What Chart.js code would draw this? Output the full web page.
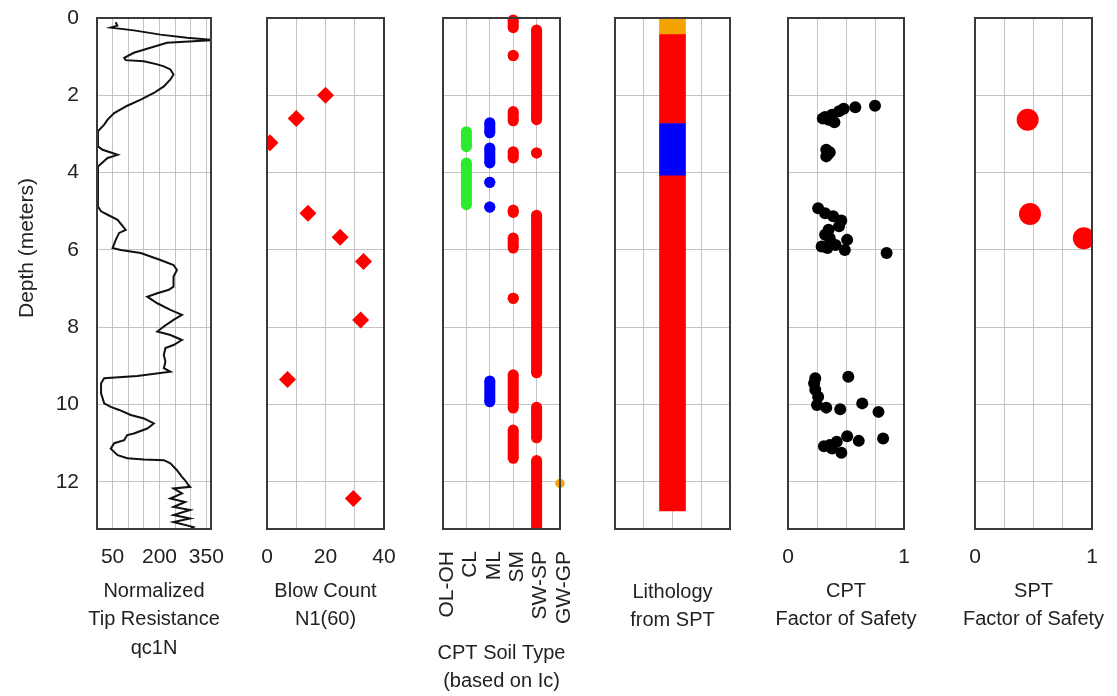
<!DOCTYPE html>
<html>
<head>
<meta charset="utf-8">
<title>CPT / SPT profile</title>
<script src="https://cdn.jsdelivr.net/npm/chart.js@4.4.1/dist/chart.umd.min.js"></script>
<style>
  html, body { margin: 0; padding: 0; background: #fff; overflow: hidden; }
  #wrap { position: relative; width: 1117px; height: 696px; }
  #wrap canvas { position: absolute; top: 0; }
</style>
</head>
<body>
<div id="wrap">
  <canvas id="qcChart"></canvas>
  <canvas id="sptChart"></canvas>
  <canvas id="soilChart"></canvas>
  <canvas id="lithChart"></canvas>
  <canvas id="cptFsChart"></canvas>
  <canvas id="sptFsChart"></canvas>
</div>
<script>
// ---- data ----
const depthLabel = "Depth (meters)";

// normalized tip resistance qc1N
const qcDepth = [0.11, 0.20, 0.25, 0.32, 0.43, 0.51, 0.57, 0.64, 0.90, 1.03, 1.09, 1.12, 1.20, 1.25, 1.33, 1.46, 1.59, 1.77, 1.94, 2.11,
  2.27, 2.46, 2.63, 2.76, 2.93, 3.32, 3.41, 3.54, 3.62, 3.84, 4.88, 5.00, 5.09, 5.22, 5.48, 5.56, 5.74, 5.95, 6.00, 6.08,
  6.26, 6.39, 6.52, 6.69, 6.95, 7.03, 7.12, 7.21, 7.38, 7.55, 7.68, 7.81, 7.98, 8.11, 8.20, 8.33, 8.46, 8.54, 8.72, 8.89,
  9.06, 9.15, 9.26, 9.32, 9.45, 9.71, 9.97, 10.06, 10.14, 10.27, 10.36, 10.49, 10.62, 10.75, 10.79, 10.92, 11.00, 11.14, 11.31, 11.39,
  11.42, 11.44, 11.52, 11.70, 11.87, 11.96, 12.09, 12.13, 12.17, 12.30, 12.43, 12.52, 12.65, 12.73, 12.86, 12.95, 13.04, 13.17, 13.22];
const qcValue = [60, 65, 44, 118, 203, 288, 372, 224, 118, 87, 92, 150, 193, 214, 235, 245, 235, 214, 182, 140,
  97, 55, 34, 23, 3, 3, 18, 66, 34, 3, 3, 13, 34, 66, 92, 71, 60, 50, 76, 140,
  203, 245, 256, 245, 245, 230, 193, 161, 193, 235, 272, 245, 214, 193, 235, 272, 245, 219, 214, 219,
  214, 235, 129, 23, 13, 13, 23, 44, 71, 108, 150, 182, 161, 118, 97, 87, 55, 44, 66, 97,
  150, 214, 235, 256, 272, 282, 293, 298, 245, 272, 235, 282, 245, 298, 245, 298, 245, 309, 300];
const qcTicksShown = [50, 200, 350];

// SPT blow count N1(60)
const sptDepth = [2.0, 2.6, 3.23, 5.05, 5.67, 6.3, 7.81, 9.35, 12.43];
const sptN = [20, 10, 1, 14, 25, 33, 32, 7, 29.5];
const sptTicksShown = [0, 20, 40];

// CPT soil type (depth intervals where each Ic class was read)
const soilTypes = ["OL-OH", "CL", "ML", "SM", "SW-SP", "GW-GP"];
const clRuns = [[2.94, 3.33], [3.75, 4.83]];
const mlRuns = [[2.71, 2.97], [3.36, 3.75], [4.25], [4.89], [9.39, 9.93]];
const smRuns = [[0.05, 0.25], [0.97], [2.42, 2.66], [3.46, 3.62], [4.97, 5.03], [5.69, 5.95], [7.25], [9.23, 10.09], [10.66, 11.39]];
const swspRuns = [[0.31, 2.63], [3.49], [5.10, 9.18], [10.07, 10.86], [11.45, 13.4]];
const gwgpRuns = [[12.04]];

// lithology from SPT
const lithTop = [0, 0.43, 2.73, 4.08];
const lithBottom = [0.43, 2.73, 4.08, 12.75];
const lithSoil = ["GW-GP", "SW-SP", "ML", "SW-SP"];

// CPT factor of safety
const cptFsDepth = [2.27, 2.31, 2.35, 2.41, 2.50, 2.56, 2.63, 2.70, 2.60,
  3.41, 3.51, 3.58, 3.47,
  4.92, 5.05, 5.13, 5.24, 5.39, 5.48, 5.61, 5.70, 5.91, 5.95, 5.87, 5.74, 6.00, 6.08,
  9.28, 9.32, 9.45, 9.62, 9.80, 10.01, 10.08, 10.12, 9.97, 10.19, 10.88, 10.94, 10.82, 10.96, 11.08, 11.14, 11.25, 11.05];
const cptFsValue = [0.75, 0.58, 0.48, 0.44, 0.38, 0.32, 0.35, 0.40, 0.30,
  0.33, 0.35, 0.33, 0.36,
  0.26, 0.32, 0.39, 0.46, 0.44, 0.35, 0.32, 0.36, 0.29, 0.34, 0.41, 0.51, 0.49, 0.85,
  0.52, 0.235, 0.225, 0.235, 0.26, 0.25, 0.33, 0.45, 0.64, 0.78, 0.82, 0.61, 0.51, 0.42, 0.31, 0.38, 0.46, 0.36];

// SPT factor of safety
const sptFsDepth = [2.63, 5.07, 5.70];
const sptFsValue = [0.45, 0.47, 0.93];
const fsTicksShown = [0, 1];

// ---- look ----
const FONT = "'Liberation Sans', Arial, Helvetica, sans-serif";
Chart.defaults.font.family = FONT;
Chart.defaults.font.size = 21;
Chart.defaults.color = "#222";
Chart.defaults.animation = false;

const TOP = 18, BOTTOM = 529, H = 696, M = 60;
const GRID = "#c4c4c4";
const DEPTH_MAX = 13.22;
const SOIL_COLOR = { "OL-OH": "#8b5a2b", "CL": "#2eea2e", "ML": "#0000ff", "SM": "#ff0000", "SW-SP": "#ff0000", "GW-GP": "#f5a300" };

// box around each plot
const frame = {
  id: "frame",
  afterDraw(chart) {
    const a = chart.chartArea, ctx = chart.ctx;
    ctx.save();
    ctx.strokeStyle = "#3a3a3a";
    ctx.lineWidth = 2;
    ctx.strokeRect(a.left, a.top, a.right - a.left, a.bottom - a.top);
    ctx.restore();
  }
};

// caption under each plot (drawn by hand so it is not squeezed to the plot width)
function caption(lines, y) {
  return {
    id: "caption",
    afterDraw(chart) {
      const a = chart.chartArea, ctx = chart.ctx;
      ctx.save();
      ctx.font = "20px " + FONT;
      ctx.fillStyle = "#222";
      ctx.textAlign = "center";
      ctx.textBaseline = "middle";
      lines.forEach((t, i) => ctx.fillText(t, (a.left + a.right) / 2, y + i * 28.6));
      ctx.restore();
    }
  };
}

const depthTitle = {
  id: "depthTitle",
  afterDraw(chart) {
    const ctx = chart.ctx;
    ctx.save();
    ctx.translate(27, 248);
    ctx.rotate(-Math.PI / 2);
    ctx.font = "21px " + FONT;
    ctx.fillStyle = "#222";
    ctx.textAlign = "center";
    ctx.textBaseline = "middle";
    ctx.fillText(depthLabel, 0, 0);
    ctx.restore();
  }
};

function depthAxis(width, showLabels) {
  return {
    type: "linear", reverse: true, min: 0, max: DEPTH_MAX,
    ticks: { stepSize: 2, includeBounds: false, display: showLabels, padding: 18 },
    grid: { color: GRID, drawTicks: false },
    border: { display: false },
    afterFit(s) {
      s.width = width;
      // the top padding already leaves room for the "0" label
      s.paddingTop = 0;
      s.paddingBottom = 0;
    }
  };
}

function valueAxis(min, max, step, shown, extraTicks) {
  return {
    type: "linear", position: "bottom", min, max, offset: false,
    ticks: Object.assign({
      stepSize: step, includeBounds: false, autoSkip: false, maxRotation: 0, padding: 16,
      callback: v => shown.includes(v) ? String(v) : ""
    }, extraTicks || {}),
    grid: { color: GRID, drawTicks: false, offset: false },
    border: { display: false },
    afterFit(s) { s.height = H - BOTTOM; }
  };
}

function makeChart(id, left, right, marginLeft, type, datasets, xAxis, plugins) {
  const cv = document.getElementById(id);
  const withLabels = marginLeft === left;
  cv.width = right - left + marginLeft + M;
  cv.height = H;
  cv.style.left = (left - marginLeft) + "px";
  return new Chart(cv, {
    type,
    data: { datasets },
    options: {
      responsive: false,
      layout: { padding: { top: TOP, right: M, bottom: 0, left: 0 } },
      plugins: { legend: { display: false }, tooltip: { enabled: false } },
      scales: { x: xAxis, y: depthAxis(marginLeft, withLabels) }
    },
    plugins: [frame].concat(plugins)
  });
}

// 1. tip resistance
makeChart("qcChart", 97, 211, 97, "scatter", [{
  data: qcDepth.map((d, i) => ({ x: qcValue[i], y: d })),
  showLine: true, borderColor: "#111", borderWidth: 2, pointRadius: 0, tension: 0
}], valueAxis(0, 365, 50, qcTicksShown), [caption(["Normalized", "Tip Resistance", "qc1N"], 591), depthTitle]);

// 2. blow count
makeChart("sptChart", 267, 384, M, "scatter", [{
  data: sptDepth.map((d, i) => ({ x: sptN[i], y: d })),
  pointStyle: "rectRot", pointRadius: 8.5, backgroundColor: "#ff0000", borderColor: "#ff0000", pointBorderWidth: 0, clip: 0
}], valueAxis(0, 40, 10, sptTicksShown), [caption(["Blow Count", "N1(60)"], 591)]);

// 3. CPT soil type
const soilRuns = { "CL": clRuns, "ML": mlRuns, "SM": smRuns, "SW-SP": swspRuns, "GW-GP": gwgpRuns };
const soilSets = [];
Object.keys(soilRuns).forEach(name => {
  const x = soilTypes.indexOf(name) + 1;
  const c = SOIL_COLOR[name];
  soilRuns[name].forEach(run => {
    soilSets.push({
      data: [{ x, y: run[0] }, { x, y: run[run.length - 1] }],
      showLine: true, borderColor: c, backgroundColor: c, borderWidth: 11,
      pointRadius: name === "GW-GP" ? 4.5 : 5.5, pointBorderWidth: 0,
      clip: { left: 10, top: 10, right: 10, bottom: 0 }
    });
  });
});
makeChart("soilChart", 443, 560, M, "scatter", soilSets,
  valueAxis(1, 6, 1, [], { minRotation: 90, maxRotation: 90, padding: 22, labelOffset: 4, callback: v => soilTypes[v - 1] }),
  [caption(["CPT Soil Type", "(based on Ic)"], 653)]);

// 4. lithology from SPT
makeChart("lithChart", 615, 730, M, "bar", [{
  data: lithTop.map((t, i) => ({ x: 0.5, y: [t, lithBottom[i]] })),
  backgroundColor: lithSoil.map(s => SOIL_COLOR[s]),
  barThickness: 26, grouped: false
}], valueAxis(0, 1, 0.25, [], { display: false }), [caption(["Lithology", "from SPT"], 592)]);

// 5. CPT factor of safety
makeChart("cptFsChart", 788, 904, M, "scatter", [{
  data: cptFsDepth.map((d, i) => ({ x: cptFsValue[i], y: d })),
  pointRadius: 6, backgroundColor: "#000", borderColor: "#000", pointBorderWidth: 0
}], valueAxis(0, 1, 0.25, fsTicksShown), [caption(["CPT", "Factor of Safety"], 591)]);

// 6. SPT factor of safety
makeChart("sptFsChart", 975, 1092, M, "scatter", [{
  data: sptFsDepth.map((d, i) => ({ x: sptFsValue[i], y: d })),
  pointRadius: 11, backgroundColor: "#ff0000", borderColor: "#ff0000", pointBorderWidth: 0, clip: 0
}], valueAxis(0, 1, 0.25, fsTicksShown), [caption(["SPT", "Factor of Safety"], 591)]);
</script>
</body>
</html>
